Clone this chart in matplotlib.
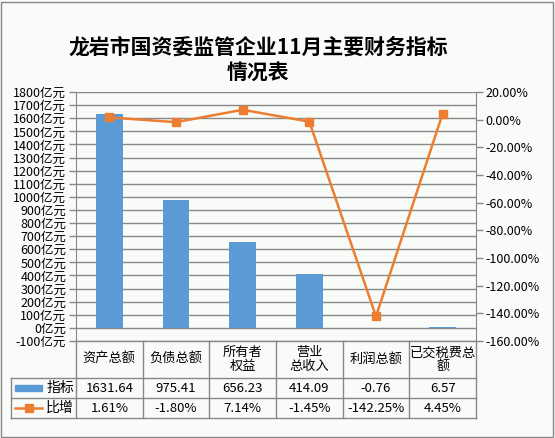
import matplotlib
matplotlib.use("Agg")
import matplotlib.pyplot as plt
from matplotlib.lines import Line2D
from matplotlib.patches import Rectangle
from matplotlib.transforms import blended_transform_factory

plt.rcParams['font.family'] = ['Noto Sans CJK SC', 'DejaVu Sans']

categories = ["资产总额", "负债总额", "所有者\n权益", "营业\n总收入", "利润总额", "已交税费总\n额"]
values = [1631.64, 975.41, 656.23, 414.09, -0.76, 6.57]
value_labels = ["1631.64", "975.41", "656.23", "414.09", "-0.76", "6.57"]
growth = [1.61, -1.80, 7.14, -1.45, -142.25, 4.45]
growth_labels = ["1.61%", "-1.80%", "7.14%", "-1.45%", "-142.25%", "4.45%"]
series_names = ["指标", "比增"]
left_ticks = list(range(-100, 1801, 100))
right_ticks = list(range(-160, 21, 20))

W, H = 555, 438
bar_color = "#5B9BD5"
line_color = "#ED7D31"
grid_color = "#888888"
bg = "#F9FBF9"

fig = plt.figure(figsize=(W / 100, H / 100), dpi=100, facecolor=bg)

def fx(x):
    return x / W

def fy(y):
    return 1 - y / H

ax_l, ax_r, ax_t, ax_b = 76, 476, 92, 341
ax = fig.add_axes([fx(ax_l), fy(ax_b), fx(ax_r - ax_l), (ax_b - ax_t) / H])
ax.set_facecolor(bg)
n = len(categories)
xs = list(range(n))
ax.bar(xs, values, width=0.4, color=bar_color, zorder=3)
ax.set_xlim(-0.5, n - 0.5)
ax.set_ylim(-100, 1800)
ax.set_yticks(left_ticks)
ax.set_yticklabels([f"{v}亿元" for v in left_ticks], fontsize=9)
ax.set_xticks([])
ax.yaxis.grid(True, color=grid_color, linewidth=1, zorder=0)
ax.set_axisbelow(True)
for s in ["top", "bottom", "right"]:
    ax.spines[s].set_visible(False)
ax.spines["left"].set_color(grid_color)
ax.tick_params(axis="y", direction="out", length=5, width=1, color=grid_color, pad=2)

ax2 = ax.twinx()
ax2.plot(xs, growth, color=line_color, linewidth=1.8, marker="s", markersize=6, zorder=5)
ax2.set_ylim(-160, 20)
ax2.set_yticks(right_ticks)
ax2.set_yticklabels([f"{v:.2f}%" for v in right_ticks], fontsize=9)
for s in ["top", "bottom", "left"]:
    ax2.spines[s].set_visible(False)
ax2.spines["right"].set_color(grid_color)
ax2.tick_params(axis="y", direction="out", length=5, width=1, color=grid_color, pad=2)

# Title
fig.text(fx(258), fy(47), "龙岩市国资委监管企业11月主要财务指标", ha="center", va="center",
         fontsize=15, fontweight="bold")
fig.text(fx(258), fy(72), "情况表", ha="center", va="center", fontsize=15, fontweight="bold")

# Data table
tc = grid_color
row_y = [341, 378, 398, 418]
left_col = 10.5
fig.add_artist(Line2D([fx(ax_l), fx(ax_r)], [fy(341), fy(341)], color=tc, lw=1))
for yy in row_y[1:]:
    fig.add_artist(Line2D([fx(left_col), fx(ax_r)], [fy(yy), fy(yy)], color=tc, lw=1))
fig.add_artist(Line2D([fx(left_col), fx(left_col)], [fy(378), fy(418)], color=tc, lw=1))
trans = blended_transform_factory(ax.transData, fig.transFigure)
for i in range(n + 1):
    xb = i - 0.5
    fig.add_artist(Line2D([xb, xb], [fy(341), fy(418)], color=tc, lw=1, transform=trans))

for i, c in enumerate(categories):
    fig.text(i, fy(359.5), c, transform=trans, ha="center", va="center", fontsize=9.5,
             linespacing=1.05)
    fig.text(i, fy(388), value_labels[i], transform=trans, ha="center", va="center", fontsize=9.5)
    fig.text(i, fy(408), growth_labels[i], transform=trans, ha="center", va="center", fontsize=9.5)

# legend keys in table
fig.add_artist(Rectangle((fx(15), fy(391)), fx(27), 6 / H, color=bar_color))
fig.add_artist(Line2D([fx(15), fx(42)], [fy(408), fy(408)], color=line_color, lw=1.8))
fig.add_artist(Line2D([fx(28.5)], [fy(408)], color=line_color, marker="s", markersize=6,
                      linestyle="none"))
fig.text(fx(60), fy(388), series_names[0], ha="center", va="center", fontsize=10)
fig.text(fx(60), fy(408), series_names[1], ha="center", va="center", fontsize=10)

# outer border
fig.add_artist(Rectangle((fx(1), fy(437)), fx(552), 435 / H, fill=False, edgecolor="#888888", lw=1))

fig.savefig("out.png", dpi=100, facecolor=bg)
